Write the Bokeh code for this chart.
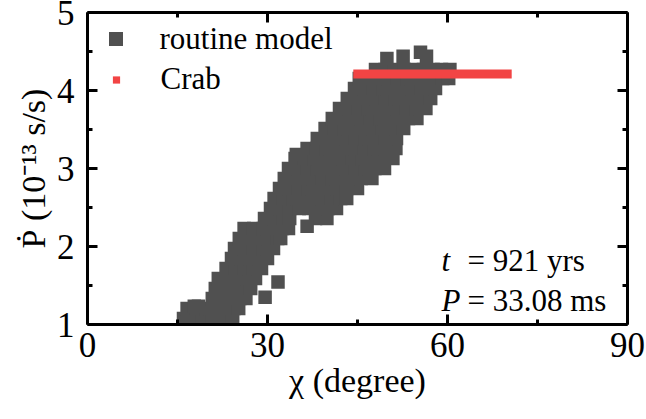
from bokeh.plotting import figure
from bokeh.models import (ColumnDataSource, FixedTicker, LinearAxis, Range1d,
                          Label, Legend, LegendItem, Title)
from bokeh.embed import file_html
from bokeh.resources import INLINE

# ---------------- data ----------------
# routine model: rows of points, each row = one Pdot level with its chi values
row_pdot = [1.077, 1.205, 1.234, 1.333, 1.462, 1.590, 1.718, 1.846, 1.974,
            2.103, 2.231, 2.359, 2.487, 2.615, 2.744, 2.872, 3.000, 3.128,
            3.256, 3.385, 3.513, 3.641, 3.769, 3.897, 4.026, 4.154, 4.270]
row_chi = [
    [16.0, 17.6, 19.2, 20.8, 22.4, 24.2],
    [16.6, 18.2, 19.8, 21.4, 23.0, 24.4, 25.2],
    [17.8, 18.5],
    [20.8, 22.4, 24.0, 25.4, 26.4],
    [21.3, 22.9, 24.5, 26.0, 27.2],
    [21.8, 23.4, 25.0, 26.6, 28.0],
    [23.1, 24.7, 26.2, 27.7, 29.0],
    [24.0, 25.6, 27.1, 28.6, 30.0],
    [24.5, 26.1, 27.7, 29.3, 31.0],
    [25.3, 26.9, 28.5, 30.1, 31.7, 32.2],
    [26.1, 27.7, 29.3, 30.9, 32.5, 33.5],
    [29.5, 31.1, 32.7, 33.7, 38.0, 39.9],
    [30.5, 32.1, 33.7, 35.3, 36.9, 38.5, 40.1, 41.5],
    [31.1, 32.7, 34.3, 35.9, 37.5, 39.1, 40.7, 42.2, 43.2],
    [32.0, 33.6, 35.2, 36.8, 38.4, 40.0, 41.6, 43.2, 45.0],
    [32.8, 34.4, 36.0, 37.6, 39.2, 40.8, 42.4, 44.0, 45.6, 47.4],
    [33.5, 35.1, 36.7, 38.3, 39.9, 41.5, 43.1, 44.7, 46.3, 47.9, 49.5],
    [34.6, 36.2, 37.8, 39.4, 41.0, 42.6, 44.2, 45.8, 47.4, 49.0, 50.9],
    [36.6, 38.2, 39.8, 41.4, 43.0, 44.6, 46.2, 47.8, 49.6, 51.4],
    [38.3, 39.9, 41.5, 43.1, 44.7, 46.3, 47.9, 49.7, 51.5],
    [39.6, 41.2, 42.8, 44.4, 46.0, 47.6, 49.2, 51.0, 52.7],
    [40.8, 42.4, 44.0, 45.6, 47.2, 48.8, 50.4, 52.0, 53.5, 54.9],
    [42.0, 43.6, 45.2, 46.8, 48.4, 50.0, 51.6, 53.2, 54.8, 56.4],
    [43.3, 44.9, 46.5, 48.1, 49.7, 51.3, 52.9, 54.5, 56.0, 57.2],
    [44.5, 46.1, 47.7, 49.3, 50.9, 52.5, 54.1, 55.7, 57.0, 58.0],
    [45.3, 46.9, 48.5, 50.1, 51.7, 53.3, 54.9, 56.5, 58.0, 59.2, 60.2],
    [48.0, 49.6, 51.2, 52.8, 54.4, 56.0, 57.6, 59.0, 60.4],
]
# isolated squares outside the main rows
extra_chi = [29.6, 31.75, 36.6, 34.8, 49.9, 52.6, 55.5, 56.5]
extra_pdot = [1.35, 1.545, 2.26, 3.18, 4.41, 4.44, 4.49, 4.44]

# Crab: observed Pdot drawn over a range of chi
crab_chi = [44.3, 70.7]
crab_pdot = [4.21, 4.21]

x_major = [0, 30, 60, 90]
x_minor = [15, 45, 75]
y_major = [1, 2, 3, 4, 5]
y_minor = [1.5, 2.5, 3.5, 4.5]

# ---------------- build sources ----------------
chi_all, pdot_all = [], []
for lvl, xs in zip(row_pdot, row_chi):
    chi_all.extend(xs)
    pdot_all.extend([lvl] * len(xs))
chi_all.extend(extra_chi)
pdot_all.extend(extra_pdot)
src_model = ColumnDataSource(dict(chi=chi_all, pdot=pdot_all))
src_crab = ColumnDataSource(dict(x0=[crab_chi[0]], x1=[crab_chi[1]],
                                 y0=[crab_pdot[0]], y1=[crab_pdot[1]]))
src_crab_pts = ColumnDataSource(dict(chi=crab_chi, pdot=crab_pdot))

FONT = "Liberation Serif"
GRAY = "#505050"
RED = "#F24444"

p = figure(width=646, height=419, x_range=Range1d(0, 90), y_range=Range1d(1, 5),
           output_backend="svg", toolbar_location=None,
           x_axis_location=None, y_axis_location=None,
           min_border_left=87, min_border_right=19, min_border_top=12,
           min_border_bottom=95)
p.outline_line_color = None
p.grid.visible = False
p.background_fill_color = "white"
p.border_fill_color = "white"

xt = FixedTicker(ticks=x_major, minor_ticks=x_minor)
yt = FixedTicker(ticks=y_major, minor_ticks=y_minor)


def make_axis(ticker, ticks, show):
    ax = LinearAxis(ticker=ticker,
                    axis_line_width=3, axis_line_color="black",
                    major_tick_in=10, major_tick_out=0,
                    minor_tick_in=5, minor_tick_out=0,
                    major_tick_line_width=3, minor_tick_line_width=3,
                    major_tick_line_color="black", minor_tick_line_color="black",
                    major_label_text_font=FONT,
                    major_label_text_font_size="35px",
                    major_label_text_color="black")
    if not show:
        ax.major_label_overrides = {t: "" for t in ticks}
        ax.major_label_standoff = 0
    return ax


ax_b = make_axis(xt, x_major, True)
ax_b.major_label_standoff = 8
ax_l = make_axis(yt, y_major, True)
ax_l.major_label_standoff = 13
ax_t = make_axis(xt, x_major, False)
ax_r = make_axis(yt, y_major, False)
p.add_layout(ax_b, "below")
p.add_layout(ax_l, "left")
p.add_layout(ax_t, "above")
p.add_layout(ax_r, "right")

# axis titles as side-panel titles (serif)
p.add_layout(Title(text="χ (degree)", align="center", text_font=FONT,
                   text_font_size="34px", text_font_style="normal",
                   text_color="black", standoff=0, offset=0), "below")
p.add_layout(Title(text="Ṗ (10⁻¹³ s/s)", align="center", text_font=FONT,
                   text_font_size="34px", text_font_style="normal",
                   text_color="black", standoff=4, offset=0), "left")

r_model = p.scatter("chi", "pdot", source=src_model, marker="square", size=13.5,
                    fill_color=GRAY, line_color=None)
p.segment("x0", "y0", "x1", "y1", source=src_crab, line_color=RED, line_width=9,
          line_cap="butt")
r_crab = p.scatter("chi", "pdot", source=src_crab_pts, marker="square", size=7,
                   fill_color=RED, line_color=None, visible=False)

leg1 = Legend(items=[LegendItem(label="routine model", renderers=[r_model])],
              location=(10.5, 267.5), glyph_width=35, glyph_height=35,
              label_standoff=27, padding=0, margin=0, spacing=0,
              border_line_color=None, background_fill_alpha=0,
              label_text_font=FONT, label_text_font_size="31px",
              label_text_color="black")
leg2 = Legend(items=[LegendItem(label="Crab", renderers=[r_crab])],
              location=(19.5, 227), glyph_width=18, glyph_height=35,
              label_standoff=36, padding=0, margin=0, spacing=0,
              border_line_color=None, background_fill_alpha=0,
              label_text_font=FONT, label_text_font_size="31px",
              label_text_color="black")
p.add_layout(leg1, "center")
p.add_layout(leg2, "center")


def lab(text, x, y, size, italic=False):
    p.add_layout(Label(x=x, y=y, x_units="screen", y_units="screen", text=text,
                       text_font=FONT, text_font_size=size,
                       text_font_style="italic" if italic else "normal",
                       text_color="black", text_align="left",
                       text_baseline="alphabetic"))


# annotation
lab("t", 354, 64, "31px", italic=True)
lab("= 921 yrs", 380, 64, "31px")
lab("P", 354, 24, "31px", italic=True)
lab("= 33.08 ms", 380, 24, "31px")

open("out.html", "w").write(file_html(p, INLINE))
